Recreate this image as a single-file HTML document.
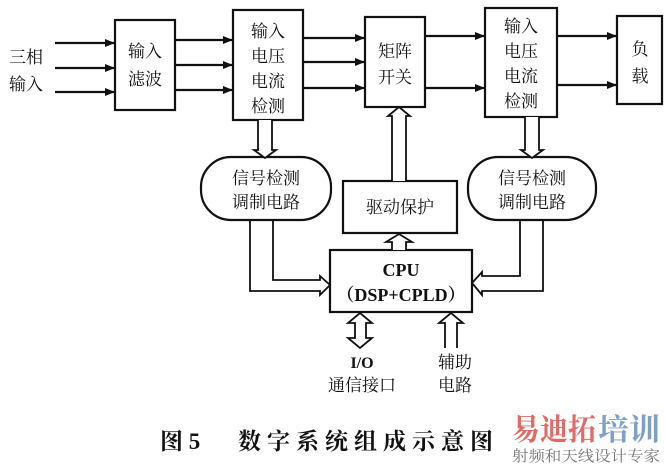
<!DOCTYPE html>
<html><head><meta charset="utf-8"><style>
body{margin:0;background:#fff}
svg{display:block}
text{font-family:"Liberation Serif","Noto Serif CJK SC","Noto Sans CJK SC",serif;fill:#111}
</style></head><body>
<svg width="665" height="465" viewBox="0 0 665 465" xmlns="http://www.w3.org/2000/svg">
<defs>
<marker id="a" markerWidth="10" markerHeight="10" refX="9" refY="5" orient="auto" markerUnits="userSpaceOnUse"><path d="M0,1 L10,5 L0,9 Z" fill="#111"/></marker>
</defs>
<g stroke="#111" stroke-width="2.2" fill="none">
<rect x="115" y="20" width="60" height="90"/>
<rect x="233" y="10" width="70" height="110"/>
<rect x="365" y="17" width="60" height="90"/>
<rect x="485" y="8" width="72" height="109"/>
<rect x="617" y="16" width="45" height="88"/>
<rect x="201" y="157" width="130" height="63" rx="30"/>
<rect x="468" y="157" width="128" height="63" rx="30"/>
<rect x="343" y="181" width="114" height="52"/>
<rect x="330" y="250" width="142" height="62"/>
</g>
<g stroke="#111" stroke-width="2.2" marker-end="url(#a)">
<line x1="55" y1="43" x2="114" y2="43"/><line x1="55" y1="68" x2="114" y2="68"/><line x1="55" y1="92" x2="114" y2="92"/>
<line x1="175" y1="40" x2="232" y2="40"/><line x1="175" y1="65" x2="232" y2="65"/><line x1="175" y1="90" x2="232" y2="90"/>
<line x1="303" y1="38" x2="364" y2="38"/><line x1="303" y1="62" x2="364" y2="62"/><line x1="303" y1="88" x2="364" y2="88"/>
<line x1="425" y1="36" x2="484" y2="36"/><line x1="425" y1="88" x2="484" y2="88"/>
<line x1="557" y1="36" x2="616" y2="36"/><line x1="557" y1="85" x2="616" y2="85"/>
</g>
<g stroke="#111" stroke-width="1.8" fill="#fff" stroke-linejoin="miter">
<path d="M258,120 V150 H254 L265,158 L276,150 H272 V120"/>
<path d="M525,117 V150 H521 L532,158 L543,150 H539 V117"/>
<path d="M392,181 V116 H388 L399,107 L410,116 H406 V181"/>
<path d="M392,250 V242 H386 L399,234 L412,242 H406 V250"/>
<path d="M250,220 V291 H320 V295 L330,285 L320,276 V280 H273 V220" fill="none"/>
<path d="M543,220 V291 H482 V295 L472,283 L482,272 V276 H520 V220" fill="none"/>
<path d="M355,323 H348 L360,313 L372,323 H366 V338 H372 L360,348 L348,338 H355 Z"/>
<path d="M445,348 V323 H439 L451,313 L463,323 H457 V348"/>
</g>
<g font-size="17" text-anchor="middle">
<text x="26" y="63">三相</text><text x="26" y="90">输入</text>
<text x="145" y="57">输入</text><text x="145" y="85">滤波</text>
<text x="268" y="37">输入</text><text x="268" y="62">电压</text><text x="268" y="87">电流</text><text x="268" y="112">检测</text>
<text x="395" y="57">矩阵</text><text x="395" y="83">开关</text>
<text x="521" y="32">输入</text><text x="521" y="57">电压</text><text x="521" y="82">电流</text><text x="521" y="107">检测</text>
<text x="640" y="55">负</text><text x="640" y="82">载</text>
<text x="266" y="184">信号检测</text><text x="266" y="208">调制电路</text>
<text x="532" y="184">信号检测</text><text x="532" y="208">调制电路</text>
<text x="400" y="213">驱动保护</text>
<text x="401" y="276" font-weight="bold" font-size="18">CPU</text>
<text x="401" y="301" font-weight="bold" font-size="18">（DSP+CPLD）</text>
<text x="362" y="368" font-weight="bold" font-size="16">I/O</text>
<text x="362" y="391">通信接口</text>
<text x="455" y="368">辅助</text><text x="455" y="391">电路</text>
</g>
<g font-size="23" font-weight="bold">
<text x="160" y="449">图 5</text>
<text x="238" y="449" letter-spacing="6">数字系统组成示意图</text>
</g>
<text x="512" y="440" font-size="30" font-weight="bold" textLength="84" lengthAdjust="spacingAndGlyphs" font-family="Liberation Sans,Noto Sans CJK SC,sans-serif" style="fill:#e06a66">易迪拓</text>
<text x="598" y="440" font-size="30" font-weight="bold" textLength="62" lengthAdjust="spacingAndGlyphs" font-family="Liberation Sans,Noto Sans CJK SC,sans-serif" style="fill:#7f9fc4">培训</text>
<text x="512" y="461" font-size="15" textLength="148" lengthAdjust="spacingAndGlyphs" style="fill:#777">射频和天线设计专家</text>
</svg>
</body></html>
